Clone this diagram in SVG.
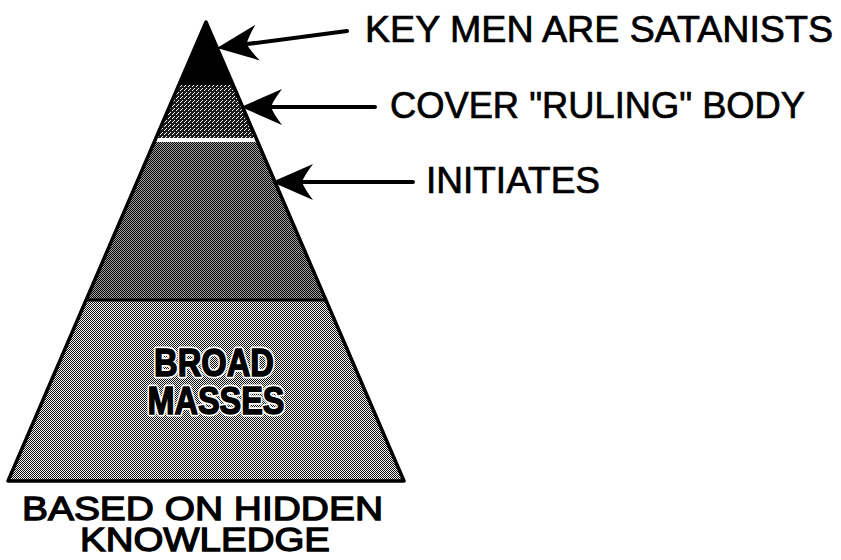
<svg xmlns="http://www.w3.org/2000/svg" width="841" height="560" viewBox="0 0 841 560">
  <style>
    .lbl { font-family: "Liberation Sans", Arial, sans-serif; font-size: 37px; fill: #000; stroke: #000; stroke-width: 0.7; }
    .base { font-family: "Liberation Sans", Arial, sans-serif; font-size: 34px; fill: #000; stroke: #000; stroke-width: 1.3; }
    .inner { font-family: "Liberation Sans", Arial, sans-serif; font-weight: bold; font-size: 38px; text-anchor: middle; }
    .halo { fill: #fff; stroke: #fff; stroke-width: 5; stroke-linejoin: round; }
    .ink { fill: #000; stroke: #000; stroke-width: 1.5; }
    .conn { stroke: #000; stroke-width: 4; fill: none; stroke-linecap: round; marker-end: url(#head); }
  </style>
  <defs>
    <marker id="head" markerUnits="userSpaceOnUse" markerWidth="42" markerHeight="36" viewBox="0 0 42 36" refX="12" refY="18" orient="auto">
      <path d="M42,18 L1,0 Q10,12 12,18 Q10,24 1,36 Z" fill="#000"/>
    </marker>
    <pattern id="p2" width="4" height="4" patternUnits="userSpaceOnUse">
      <rect width="4" height="4" fill="#1a1a1a"/>
      <path d="M0,3 L3,0" stroke="#fff" stroke-width="1"/>
    </pattern>
    <pattern id="p3" width="2" height="2" patternUnits="userSpaceOnUse">
      <rect width="2" height="2" fill="#a0a0a0"/>
      <rect width="1" height="1" fill="#000"/>
      <rect x="1" y="1" width="1" height="1" fill="#000"/>
    </pattern>
    <pattern id="p4" width="2" height="2" patternUnits="userSpaceOnUse">
      <rect width="2" height="2" fill="#f4f4f4"/>
      <rect width="1" height="1" fill="#111"/>
      <rect x="1" y="1" width="1" height="1" fill="#111"/>
    </pattern>
  </defs>

  <g id="pyramid">
    <g id="apex-key-men">
      <polygon points="206,24 232.4,85 179.6,85" fill="#000"/>
    </g>
    <g id="band-ruling-body">
      <polygon points="179.6,85 232.4,85 255.2,138 156.8,138" fill="url(#p2)"/>
    </g>
    <g id="band-initiates">
      <rect x="150" y="138" width="112" height="4" fill="#fff"/>
      <polygon points="155,142 257,142 325.2,300 86.8,300" fill="url(#p3)"/>
    </g>
    <g id="band-broad-masses">
      <polygon points="86.8,300 325.2,300 403,480 9,480" fill="url(#p4)"/>
      <line x1="87" y1="300" x2="325" y2="300" stroke="#000" stroke-width="3"/>
      <text class="inner halo" x="214" y="376" textLength="120" lengthAdjust="spacingAndGlyphs">BROAD</text>
      <text class="inner halo" x="216" y="414" textLength="137" lengthAdjust="spacingAndGlyphs">MASSES</text>
      <text class="inner ink" x="214" y="376" textLength="120" lengthAdjust="spacingAndGlyphs">BROAD</text>
      <text class="inner ink" x="216" y="414" textLength="137" lengthAdjust="spacingAndGlyphs">MASSES</text>
    </g>
    <polygon points="206,22 404,481 8,481" fill="none" stroke="#000" stroke-width="3.5" stroke-linejoin="round"/>
  </g>

  <g id="connectors">
    <line class="conn" x1="347" y1="31" x2="246.7" y2="44.1"/>
    <line class="conn" x1="375" y1="107" x2="271" y2="107"/>
    <line class="conn" x1="413" y1="182" x2="302" y2="182"/>
  </g>

  <g id="label-key-men">
    <text class="lbl" x="365" y="42" textLength="468" lengthAdjust="spacingAndGlyphs">KEY MEN ARE SATANISTS</text>
  </g>
  <g id="label-ruling-body">
    <text class="lbl" x="390" y="118" textLength="415" lengthAdjust="spacingAndGlyphs">COVER "RULING" BODY</text>
  </g>
  <g id="label-initiates">
    <text class="lbl" x="426" y="193" textLength="174" lengthAdjust="spacingAndGlyphs">INITIATES</text>
  </g>
  <g id="label-base">
    <text class="base" x="22" y="520" textLength="361" lengthAdjust="spacingAndGlyphs">BASED ON HIDDEN</text>
    <text class="base" x="80" y="551" textLength="250" lengthAdjust="spacingAndGlyphs">KNOWLEDGE</text>
  </g>
</svg>
